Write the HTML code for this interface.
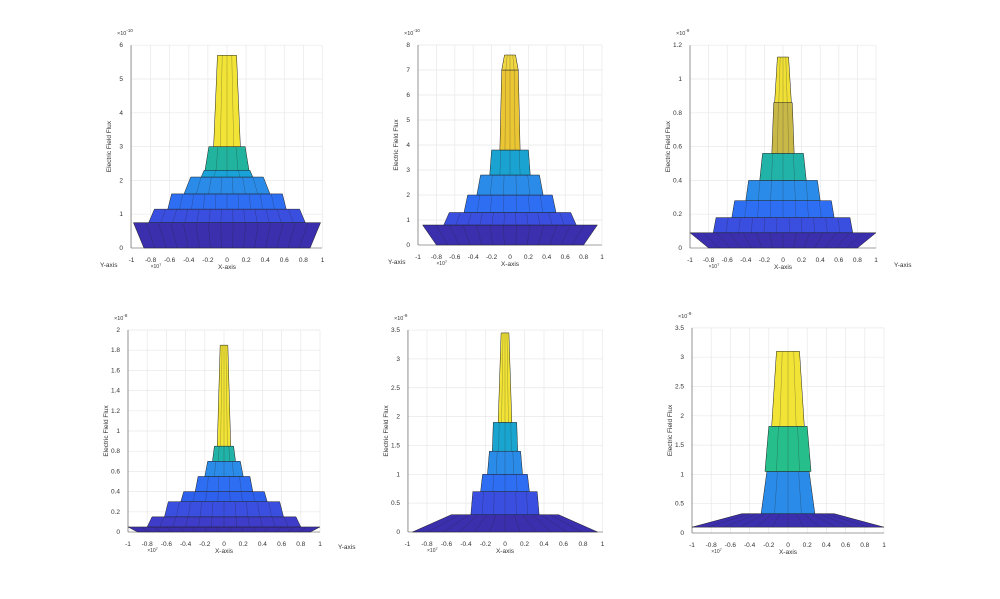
<!DOCTYPE html><html><head><meta charset="utf-8"><style>body{margin:0;background:#fff}svg{display:block;font-family:"Liberation Sans",sans-serif}</style></head><body>
<svg id="s" width="1000" height="599" xmlns="http://www.w3.org/2000/svg"></svg>
<script>
const P=[
{cx:227,sx:95.5,y0:248,sy:33.8,ymax:6,yt:[0,1,2,3,4,5,6],exp:"-10",left:131,right:322,
 t:[[0,0.75,0.87,0.98,'#3b2fae'],[0.75,1.15,0.82,0.76,'#3a4ee0'],[1.15,1.6,0.62,0.58,'#2e6ef2'],[1.6,2.1,0.45,0.38,'#2a8be8'],[2.1,2.3,0.27,0.24,'#1aa2d8'],[2.3,3.0,0.23,0.19,'#22b39e'],[3.0,5.7,0.14,0.1,'#f2e436']],yl:"Y-axis"},
{cx:510,sx:92,y0:245,sy:25,ymax:8,yt:[0,1,2,3,4,5,6,7,8],exp:"-10",left:418,right:602,
 t:[[0,0.8,0.8,0.95,'#3b2fae'],[0.8,1.3,0.72,0.66,'#3a4ee0'],[1.3,2.0,0.5,0.46,'#2e6ef2'],[2.0,2.8,0.36,0.32,'#2a8be8'],[2.8,3.8,0.22,0.2,'#1aa2d0'],[3.8,7.0,0.11,0.09,'#eac634'],[7.0,7.6,0.09,0.06,'#f0d640']],yl:"Y-axis"},
{cx:783,sx:93,y0:248,sy:169,ymax:1.2,yt:[0,0.2,0.4,0.6,0.8,1,1.2],exp:"-9",left:690,right:876,
 t:[[0,0.09,0.8,1.0,'#3b2fae'],[0.09,0.18,0.75,0.72,'#3a4ee0'],[0.18,0.28,0.55,0.52,'#2e6ef2'],[0.28,0.4,0.4,0.37,'#2a8be8'],[0.4,0.56,0.25,0.22,'#22b3a8'],[0.56,0.86,0.12,0.1,'#c8b848'],[0.86,1.13,0.09,0.06,'#f0e036']],yl:"Y-axis"},
{cx:224,sx:96,y0:532,sy:101,ymax:2,yt:[0,0.2,0.4,0.6,0.8,1,1.2,1.4,1.6,1.8,2],exp:"-8",left:128,right:320,
 t:[[0,0.05,0.9,1.0,'#3b2fae'],[0.05,0.15,0.8,0.75,'#3e3cc8'],[0.15,0.3,0.62,0.58,'#3a4ee0'],[0.3,0.4,0.45,0.42,'#2e60ee'],[0.4,0.55,0.3,0.27,'#2e6ef2'],[0.55,0.7,0.2,0.17,'#2a8be8'],[0.7,0.85,0.12,0.1,'#22b3a8'],[0.85,1.85,0.07,0.04,'#f2e436']],yl:"Y-axis"},
{cx:505,sx:97.5,y0:532,sy:57.7,ymax:3.5,yt:[0,0.5,1,1.5,2,2.5,3,3.5],exp:"-9",left:408,right:603,
 t:[[0,0.3,0.95,0.55,'#3b2fae'],[0.3,0.7,0.35,0.33,'#3a4ee0'],[0.7,1.0,0.25,0.23,'#2e6ef2'],[1.0,1.4,0.18,0.16,'#2a8be8'],[1.4,1.9,0.13,0.12,'#1aa5d0'],[1.9,3.45,0.07,0.04,'#f2e436']],yl:""},
{cx:788,sx:96,y0:533,sy:58.6,ymax:3.5,yt:[0,0.5,1,1.5,2,2.5,3,3.5],exp:"-9",left:692,right:884,
 t:[[0.1,0.33,1.0,0.48,'#3b2fae'],[0.33,1.05,0.28,0.22,'#2a8be8'],[1.05,1.82,0.24,0.2,'#26bf8c'],[1.82,3.1,0.17,0.12,'#f2e436']],yl:""}
];
let h='';
for(const p of P){
 const top=p.y0-p.ymax*p.sy;
 for(let x=-1;x<=1.001;x+=0.2){const X=p.cx+x*p.sx;h+=`<line x1="${X}" y1="${top}" x2="${X}" y2="${p.y0}" stroke="#e8e8e8" stroke-width="0.7"/>`;
  h+=`<text x="${X}" y="${p.y0+14}" font-size="6.5" fill="#333" text-anchor="middle">${(Math.round(x*10)/10).toString()}</text>`;}
 for(const v of p.yt){const Y=p.y0-v*p.sy;h+=`<line x1="${p.left}" y1="${Y}" x2="${p.right}" y2="${Y}" stroke="#e8e8e8" stroke-width="0.7"/><text x="${p.left-8}" y="${Y+2}" font-size="6.5" fill="#333" text-anchor="end">${v}</text>`;}
 h+=`<line x1="${p.left}" y1="${top}" x2="${p.left}" y2="${p.y0}" stroke="#555" stroke-width="0.6"/><line x1="${p.left}" y1="${p.y0}" x2="${p.right}" y2="${p.y0}" stroke="#555" stroke-width="0.6"/>`;
 h+=`<text x="${p.left-14}" y="${top-10}" font-size="5.5" fill="#333">×10<tspan dy="-3" font-size="4.5">${p.exp}</tspan></text>`;
 h+=`<text x="${p.cx}" y="${p.y0+21}" font-size="6.5" fill="#333" text-anchor="middle">X-axis</text>`;
 h+=`<text x="${p.cx-p.sx*0.8}" y="${p.y0+20}" font-size="5" fill="#333">×10<tspan dy="-2" font-size="4">7</tspan></text>`;
 const my=(top+p.y0)/2;h+=`<text transform="translate(${p.left-20},${my}) rotate(-90)" font-size="6.5" fill="#333" text-anchor="middle">Electric Field Flux</text>`;
 for(const t of p.t){const yb=p.y0-t[0]*p.sy,yt=p.y0-t[1]*p.sy,b=t[2]*p.sx,a=t[3]*p.sx;
  h+=`<polygon points="${p.cx-b},${yb} ${p.cx+b},${yb} ${p.cx+a},${yt} ${p.cx-a},${yt}" fill="${t[4]}" stroke="#222" stroke-width="0.5"/>`;
  const n=Math.max(4,Math.round((b+a)/12));for(let i=1;i<n;i++){const f=i/n*2-1;h+=`<line x1="${p.cx+f*b}" y1="${yb}" x2="${p.cx+f*a}" y2="${yt}" stroke="#222" stroke-width="0.35" opacity="0.6"/>`;}}
}
h+=`<text x="100" y="267" font-size="6.5" fill="#333">Y-axis</text><text x="388" y="264" font-size="6.5" fill="#333">Y-axis</text><text x="894" y="267" font-size="6.5" fill="#333">Y-axis</text><text x="338" y="549" font-size="6.5" fill="#333">Y-axis</text>`;
document.getElementById('s').innerHTML=h;
</script></body></html>
